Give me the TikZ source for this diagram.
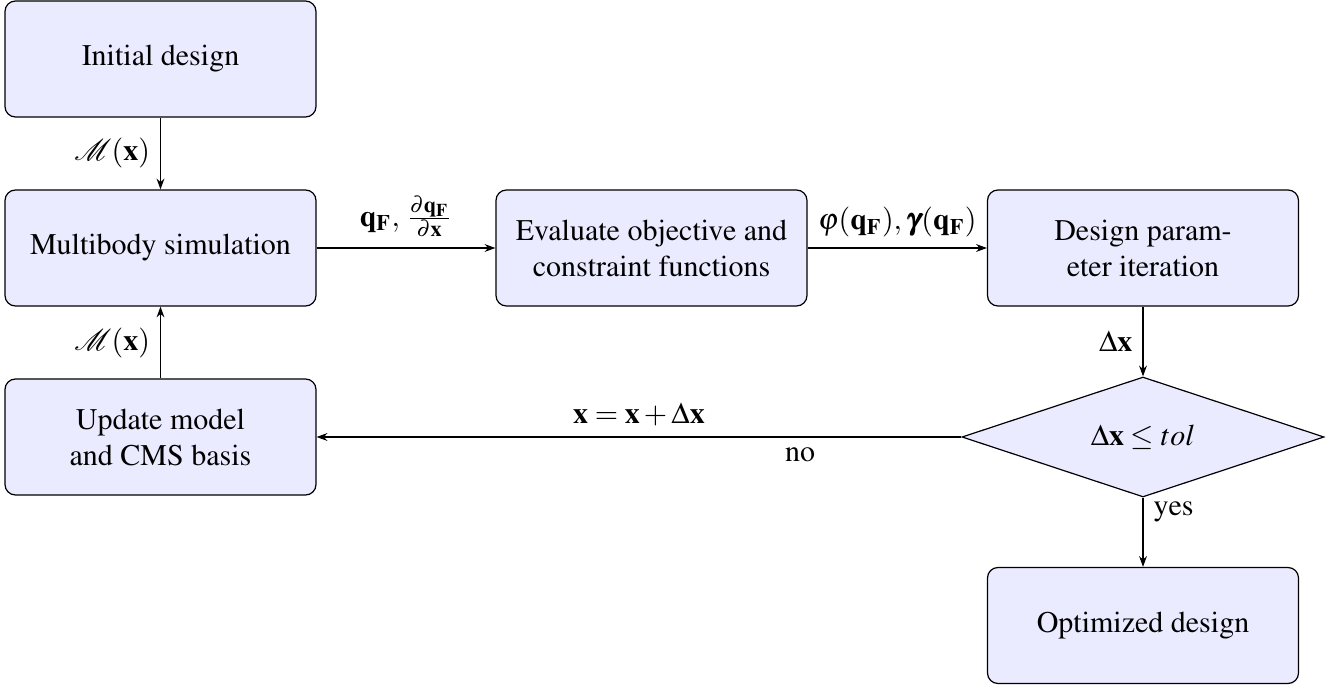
\documentclass[tikz,border=0pt]{standalone}
\usepackage[T1]{fontenc}
\usepackage{amsmath}
\usepackage{mathptmx}
\usepackage{mathrsfs}
\usepackage{bm}
\usetikzlibrary{shapes.geometric,arrows.meta}
\begin{document}
\begin{tikzpicture}[x={(0.33333pt,0)},y={(0,-0.33333pt)},
  block/.style={draw, fill=blue!8, rounded corners=3.5pt, minimum width=103.67pt, minimum height=38.67pt, align=center, inner sep=2pt},
  decision/.style={draw, fill=blue!8, shape=diamond, aspect=3, minimum width=120.7pt, minimum height=40pt, inner sep=1pt},
  arr/.style={-{Stealth[length=3.6pt,width=2.6pt]}, line width=0.4pt}]
\useasboundingbox (0,0) rectangle (1338,687);
\node[block] (init) at (160.5,59) {Initial design};
\node[block] (sim) at (160.5,248) {Multibody simulation};
\node[block] (eval) at (651.5,248) {Evaluate objective and\\constraint functions};
\node[block] (design) at (1143,248) {Design param-\\eter iteration};
\node[block] (update) at (160.5,437) {Update model\\and CMS basis};
\node[decision] (dec) at (1143,437) {$\Delta\mathbf{x} \leq tol$};
\node[block] (opt) at (1143,625.5) {Optimized design};
\draw[arr] (init) -- node[left] {$\mathscr{M}(\mathbf{x})$} (sim);
\draw[arr] (update) -- node[left] {$\mathscr{M}(\mathbf{x})$} (sim);
\draw[arr] (sim) -- node[above] {$\mathbf{q}_\mathbf{F},\,\frac{\partial \mathbf{q}_\mathbf{F}}{\partial \mathbf{x}}$} (eval);
\draw[arr] (eval) -- node[above] {$\varphi(\mathbf{q}_\mathbf{F}),\bm{\gamma}(\mathbf{q}_\mathbf{F})$} (design);
\draw[arr] (design) -- node[left] {$\Delta\mathbf{x}$} (dec);
\draw[arr] (dec) -- node[above, pos=0.5] {$\mathbf{x} = \mathbf{x} + \Delta\mathbf{x}$} node[below, pos=0.25] {no} (update);
\draw[arr] (dec) -- node[right, pos=0.2] {yes} (opt);
\end{tikzpicture}
\end{document}
